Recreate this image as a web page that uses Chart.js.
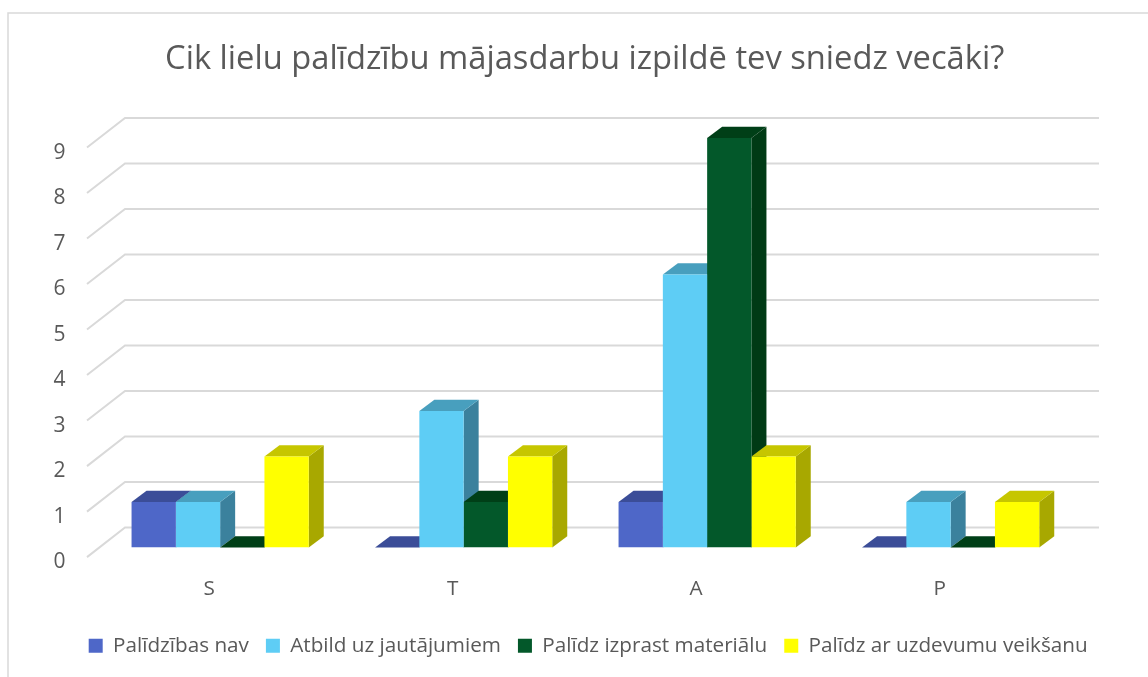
<!DOCTYPE html>
<html>
<head>
<meta charset="utf-8">
<style>html,body{margin:0;padding:0;background:#fff}canvas{display:block}</style>
<script src="https://cdn.jsdelivr.net/npm/chart.js@4"></script>
</head>
<body>
<canvas id="c" width="1148" height="677"></canvas>
<script>
const categories = ['S', 'T', 'A', 'P'];
const seriesNames = ['Palīdzības nav', 'Atbild uz jautājumiem', 'Palīdz izprast materiālu', 'Palīdz ar uzdevumu veikšanu'];
const noHelp = [1, 0, 1, 0];
const answers = [1, 3, 6, 1];
const understand = [0, 1, 9, 0];
const tasks = [2, 2, 2, 1];
const frontColors = ['#4e67c8', '#5ecdf5', '#03582a', '#ffff00'];
const topColors = ['#3b4d98', '#489fbe', '#003f17', '#c6c600'];
const sideColors = ['#34447f', '#3b819d', '#003a15', '#a8a800'];
const titleText = 'Cik lielu palīdzību mājasdarbu izpildē tev sniedz vecāki?';
const FONT = '"Open Sans", sans-serif';
const TEXT = '#595959';

function poly(ctx, pts, fill) {
  ctx.fillStyle = fill;
  ctx.beginPath();
  pts.forEach((p, i) => i ? ctx.lineTo(p[0], p[1]) : ctx.moveTo(p[0], p[1]));
  ctx.closePath();
  ctx.fill();
}

const scene3d = {
  id: 'scene3d',
  afterLayout(chart) {
    const shift = (box, d, v) => { box.left += d; box.right += d; box.top += v; box.bottom += v; };
    shift(chart.titleBlock, 48.5, 0);
    shift(chart.legend, 52, 2);
  },
  beforeDraw(chart) {
    const ctx = chart.ctx;
    ctx.save();
    ctx.strokeStyle = '#d9d9d9';
    ctx.lineWidth = 1.5;
    ctx.beginPath();
    ctx.moveTo(8, chart.height);
    ctx.lineTo(8, 13);
    ctx.lineTo(chart.width, 13);
    ctx.stroke();
    ctx.restore();
  },
  beforeDatasetsDraw(chart) {
    const ctx = chart.ctx, y = chart.scales.y, area = chart.chartArea;
    const wallDx = 26.6, wallDy = 20.1, floorDx = 11.4, floorDy = 9.5;
    ctx.save();
    ctx.strokeStyle = '#d9d9d9';
    ctx.lineWidth = 2;
    y.ticks.forEach(t => {
      const py = y.getPixelForValue(t.value);
      ctx.beginPath();
      ctx.moveTo(area.left - floorDx, py + floorDy);
      ctx.lineTo(area.left + wallDx, py - wallDy);
      ctx.lineTo(area.right + wallDx, py - wallDy);
      ctx.stroke();
    });
    const dx = 15, dy = 11.3;
    chart.data.labels.forEach((_, j) => {
      chart.data.datasets.forEach((_, i) => {
        const b = chart.getDatasetMeta(i).data[j];
        const l = b.x - b.width / 2, r = b.x + b.width / 2, t = b.y, f = b.base;
        poly(ctx, [[r, t], [r + dx, t - dy], [r + dx, f - dy], [r, f]], sideColors[i]);
        poly(ctx, [[l, t], [l + dx, t - dy], [r + dx, t - dy], [r, t]], topColors[i]);
      });
    });
    ctx.restore();
  }
};

new Chart(document.getElementById('c'), {
  type: 'bar',
  plugins: [scene3d],
  data: {
    labels: categories,
    datasets: [noHelp, answers, understand, tasks].map((d, i) => ({
      label: seriesNames[i],
      data: d,
      backgroundColor: frontColors[i],
      borderWidth: 0,
      barPercentage: 1,
      categoryPercentage: 0.7277
    }))
  },
  options: {
    responsive: false,
    animation: false,
    layout: { padding: { left: 0, right: 75.6, top: 0, bottom: 13 } },
    plugins: {
      tooltip: { enabled: false },
      title: {
        display: true,
        text: titleText,
        color: TEXT,
        font: { family: FONT, size: 32.7, weight: 'normal', lineHeight: 1.2 },
        padding: { top: 40.4, bottom: 58.4 }
      },
      legend: {
        position: 'bottom',
        labels: {
          color: TEXT,
          font: { family: FONT, size: 20.7 },
          boxWidth: 14,
          boxHeight: 14,
          padding: 17
        }
      }
    },
    scales: {
      x: {
        grid: { display: false, drawTicks: false },
        border: { display: false },
        ticks: { color: TEXT, font: { family: FONT, size: 20.7 }, padding: 29, labelOffset: -11, maxRotation: 0 },
        afterFit(s) { s.height = 68.7; }
      },
      y: {
        min: 0,
        max: 9,
        grid: { display: false, drawTicks: false },
        border: { display: false },
        ticks: { stepSize: 1, color: TEXT, font: { family: FONT, size: 21 }, padding: 33, labelOffset: 14.5 },
        afterFit(s) { s.width = 98.4; }
      }
    }
  }
});
</script>
</body>
</html>
